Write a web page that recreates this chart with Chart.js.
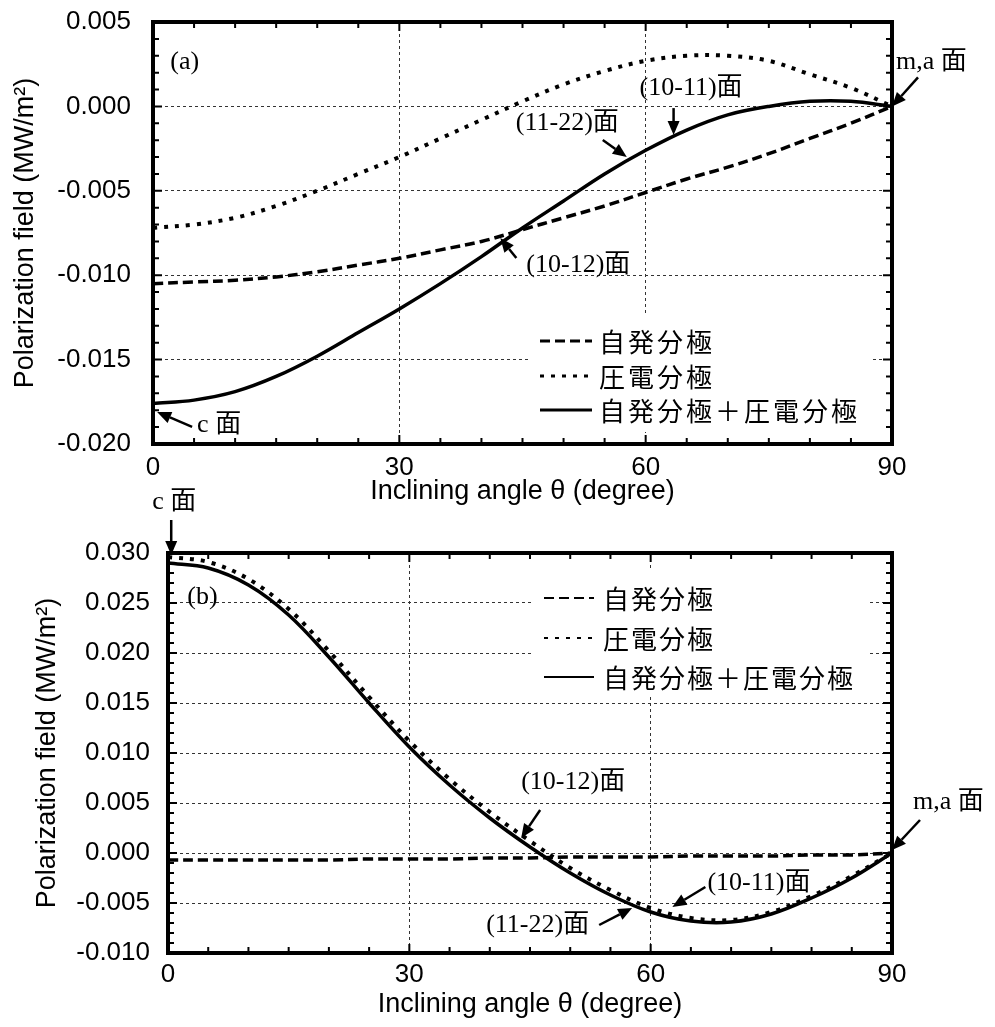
<!DOCTYPE html>
<html>
<head>
<meta charset="utf-8">
<script src="https://cdn.jsdelivr.net/npm/chart.js@4.4.1/dist/chart.umd.min.js"></script>
<style>
  body { margin: 0; background: #fff; }
  #wrap { position: relative; width: 995px; height: 1027px; }
  canvas { position: absolute; left: 0; }
  #chartA { top: 0; }
  #chartB { top: 480px; }
</style>
</head>
<body>
<div id="wrap">
  <canvas id="chartA" width="995" height="510"></canvas>
  <canvas id="chartB" width="995" height="547"></canvas>
</div>
<script>
// inclining angle (degree)
const angles = [0, 5, 10, 15, 20, 25, 30, 35, 40, 45, 50, 55, 60, 65, 70, 75, 80, 85, 90];

// (a)
const spontA = [-0.0105, -0.0104, -0.0103, -0.0101, -0.0098, -0.0094, -0.0090, -0.0085, -0.0080, -0.0073,
                -0.0066, -0.0059, -0.0051, -0.0043, -0.0036, -0.0028, -0.0019, -0.0010, 0.0000];
const piezoA = [-0.0072, -0.0070, -0.0066, -0.0059, -0.0050, -0.0040, -0.0030, -0.0019, -0.0008, 0.0003,
                0.0013, 0.0021, 0.0027, 0.0030, 0.0030, 0.0027, 0.0019, 0.0011, 0.0000];
const totalA = [-0.0176, -0.0174, -0.0169, -0.0160, -0.0148, -0.0134, -0.0120, -0.0105, -0.0089, -0.0072,
                -0.0056, -0.0040, -0.0026, -0.0014, -0.0005, 0.0000, 0.0003, 0.0003, 0.0000];

// (b)
const spontB = [-0.0007, -0.0007, -0.0007, -0.0007, -0.0007, -0.0006, -0.0006, -0.0006, -0.0005, -0.0005,
                -0.0004, -0.0004, -0.0004, -0.0003, -0.0003, -0.0003, -0.0002, -0.0002, 0.0000];
const piezoB = [0.0296, 0.0291, 0.0274, 0.0244, 0.0202, 0.0156, 0.0112, 0.0074, 0.0041, 0.0012,
                -0.0015, -0.0037, -0.0055, -0.0065, -0.0067, -0.0059, -0.0043, -0.0023, 0.0000];
const totalB = [0.0290, 0.0285, 0.0268, 0.0238, 0.0196, 0.0150, 0.0106, 0.0068, 0.0035, 0.0006,
                -0.0020, -0.0042, -0.0059, -0.0068, -0.0069, -0.0061, -0.0045, -0.0025, 0.0000];

const xTicks = [0, 30, 60, 90];
const yTicksA = [-0.020, -0.015, -0.010, -0.005, 0.000, 0.005];
const yTicksB = [-0.010, -0.005, 0.000, 0.005, 0.010, 0.015, 0.020, 0.025, 0.030];
const seriesNames = ['自発分極', '圧電分極', '自発分極＋圧電分極'];
const xTitle = 'Inclining angle θ (degree)';
const yTitle = 'Polarization field (MW/m²)';

// plane labels: tip given in data units, text / tail offsets in px
const notesA = [
  { text: 'm,a 面', x: 90, y: 0.0000, tail: [26, -29], at: [4, -44] },
  { text: '(10-11)面', x: 63.4, y: -0.0017, tail: [0, -27], at: [-34, -47] },
  { text: '(11-22)面', x: 57.7, y: -0.0030, tail: [-24, -17], at: [-111, -34] },
  { text: '(10-12)面', x: 42.3, y: -0.0078, tail: [16, 20], at: [26, 27] },
  { text: 'c 面', x: 0.5, y: -0.0181, tail: [35, 15], at: [40, 13] },
  { text: '(a)', x: 2.1, y: 0.0026 }
];
const notesB = [
  { text: 'c 面', x: 0.4, y: 0.0298, tail: [0, -35], at: [-19, -53] },
  { text: '(b)', x: 2.4, y: 0.0256 },
  { text: 'm,a 面', x: 90, y: 0.0003, tail: [28, -30], at: [21, -48] },
  { text: '(10-12)面', x: 43.9, y: 0.0015, tail: [19, -28], at: [0, -56] },
  { text: '(10-11)面', x: 62.7, y: -0.0054, tail: [33, -20], at: [35, -24] },
  { text: '(11-22)面', x: 57.7, y: -0.0055, tail: [-33, 17], at: [-146, 17] }
];

const sansFont = '"Liberation Sans", Arial, sans-serif';
const serifFont = '"Liberation Serif", "Times New Roman", "Noto Sans CJK JP", serif';
const cjkFont = '"Noto Sans CJK JP", sans-serif';

function points(vals) {
  return angles.map((a, i) => ({ x: a, y: vals[i] }));
}

function drawArrow(ctx, x1, y1, x2, y2) {
  const ang = Math.atan2(y2 - y1, x2 - x1);
  const c = Math.cos(ang), s = Math.sin(ang);
  const head = 14, half = 6;
  ctx.beginPath();
  ctx.moveTo(x1, y1);
  ctx.lineTo(x2 - head * c, y2 - head * s);
  ctx.stroke();
  ctx.beginPath();
  ctx.moveTo(x2, y2);
  ctx.lineTo(x2 - head * c + half * s, y2 - head * s - half * c);
  ctx.lineTo(x2 - head * c - half * s, y2 - head * s + half * c);
  ctx.closePath();
  ctx.fill();
}

const framePlugin = {
  id: 'frame',
  afterDatasetsDraw(chart, args, opts) {
    const { ctx, chartArea: a, scales } = chart;
    const sx = scales.x, sy = scales.y;
    ctx.save();

    // legend box
    const lg = opts.legend;
    const bx = a.left + lg.x, by = a.top + lg.y;
    ctx.fillStyle = '#fff';
    ctx.fillRect(bx, by, lg.w, lg.h);
    chart.data.datasets.forEach((ds, i) => {
      const ry = by + lg.rows[i];
      ctx.strokeStyle = '#000';
      ctx.lineWidth = lg.lineWidth;
      ctx.setLineDash(ds.borderDash || []);
      ctx.beginPath();
      ctx.moveTo(bx + lg.line0, ry);
      ctx.lineTo(bx + lg.line1, ry);
      ctx.stroke();
      ctx.setLineDash([]);
      ctx.fillStyle = '#000';
      ctx.font = '26px ' + cjkFont;
      ctx.letterSpacing = lg.spacing;
      ctx.textAlign = 'left';
      ctx.textBaseline = 'middle';
      ctx.fillText(ds.label, bx + lg.textX, ry + 1);
    });
    ctx.letterSpacing = '0px';

    // inward ticks
    ctx.strokeStyle = '#000';
    ctx.lineWidth = 2;
    const nx = Math.round((sx.max - sx.min) / opts.xMinor);
    for (let i = 0; i <= nx; i++) {
      const v = sx.min + i * opts.xMinor;
      const px = sx.getPixelForValue(v);
      const len = xTicks.includes(v) ? 9 : 6;
      ctx.beginPath();
      ctx.moveTo(px, a.bottom); ctx.lineTo(px, a.bottom - len);
      ctx.moveTo(px, a.top); ctx.lineTo(px, a.top + len);
      ctx.stroke();
    }
    const ny = Math.round((sy.max - sy.min) / opts.yMinor);
    for (let i = 0; i <= ny; i++) {
      const py = sy.getPixelForValue(sy.min + i * opts.yMinor);
      const len = i % 5 === 0 ? 9 : 6;
      ctx.beginPath();
      ctx.moveTo(a.left, py); ctx.lineTo(a.left + len, py);
      ctx.moveTo(a.right, py); ctx.lineTo(a.right - len, py);
      ctx.stroke();
    }

    // frame
    ctx.lineWidth = 4;
    ctx.strokeRect(a.left, a.top, a.right - a.left, a.bottom - a.top);

    // plane labels
    ctx.fillStyle = '#000';
    ctx.strokeStyle = '#000';
    ctx.lineWidth = 2.5;
    ctx.font = '26px ' + serifFont;
    ctx.textAlign = 'left';
    ctx.textBaseline = 'middle';
    opts.notes.forEach(n => {
      const px = sx.getPixelForValue(n.x);
      const py = sy.getPixelForValue(n.y);
      if (n.tail) {
        drawArrow(ctx, px + n.tail[0], py + n.tail[1], px, py);
        ctx.fillText(n.text, px + n.at[0], py + n.at[1]);
      } else {
        ctx.fillText(n.text, px, py);
      }
    });
    ctx.restore();
  }
};

function makeChart(id, cfg) {
  const lineStyles = [
    { borderDash: [10, 5], borderWidth: 3.5 },
    { borderDash: [4, 7], borderWidth: 4 },
    { borderDash: [], borderWidth: 3.5 }
  ];
  const datasets = cfg.series.map((vals, i) => ({
    label: seriesNames[i],
    data: points(vals),
    borderColor: '#000',
    borderWidth: lineStyles[i].borderWidth,
    borderDash: lineStyles[i].borderDash,
    borderCapStyle: 'butt',
    pointRadius: 0,
    fill: false,
    tension: 0.35
  }));

  return new Chart(document.getElementById(id), {
    type: 'line',
    data: { datasets },
    options: {
      responsive: false,
      animation: false,
      devicePixelRatio: 1,
      layout: { padding: { top: cfg.padTop, right: 103, left: 0, bottom: 0 } },
      plugins: {
        legend: { display: false },
        tooltip: { enabled: false },
        frame: { xMinor: 5, yMinor: 0.001, legend: cfg.legend, notes: cfg.notes }
      },
      scales: {
        x: {
          type: 'linear', min: 0, max: 90,
          afterBuildTicks: s => { s.ticks = xTicks.map(v => ({ value: v })); },
          afterFit: s => { s.height = cfg.xAxisH; s.paddingLeft = 0; s.paddingRight = 0; },
          grid: { color: '#333', lineWidth: 1, drawTicks: false },
          border: { display: false, dash: [3, 3] },
          ticks: { color: '#000', font: { family: sansFont, size: 26 }, padding: cfg.xTickPad, maxRotation: 0 },
          title: { display: true, text: xTitle, color: '#000', font: { family: sansFont, size: 27 },
                   padding: { top: 0, bottom: cfg.xTitlePad } }
        },
        y: {
          type: 'linear', min: cfg.yTicks[0], max: cfg.yTicks[cfg.yTicks.length - 1],
          afterBuildTicks: s => { s.ticks = cfg.yTicks.map(v => ({ value: v })); },
          afterFit: s => { s.width = cfg.yAxisW; s.paddingTop = 0; s.paddingBottom = 0; },
          grid: { color: '#333', lineWidth: 1, drawTicks: false },
          border: { display: false, dash: [3, 3] },
          ticks: {
            color: '#000', font: { family: sansFont, size: 26 }, padding: cfg.yTickPad,
            callback: v => (Math.abs(v) < 1e-9 ? 0 : v).toFixed(3)
          },
          title: { display: true, text: yTitle, color: '#000', font: { family: sansFont, size: 27 },
                   padding: { top: cfg.yTitlePad, bottom: 0 } }
        }
      }
    },
    plugins: [framePlugin]
  });
}

makeChart('chartA', {
  series: [spontA, piezoA, totalA],
  yTicks: yTicksA,
  padTop: 22, xAxisH: 66, yAxisW: 153,
  xTickPad: 8, yTickPad: 22, xTitlePad: 2, yTitlePad: 9,
  legend: { x: 377, y: 293, w: 342, h: 117, line0: 10, line1: 62, textX: 69,
            rows: [26, 61, 95], lineWidth: 3, spacing: '3px' },
  notes: notesA
});

makeChart('chartB', {
  series: [spontB, piezoB, totalB],
  yTicks: yTicksB,
  padTop: 73, xAxisH: 74, yAxisW: 168,
  xTickPad: 6, yTickPad: 18, xTitlePad: 6, yTitlePad: 31,
  legend: { x: 365, y: 17, w: 334, h: 127, line0: 11, line1: 61, textX: 70,
            rows: [28, 68, 107], lineWidth: 2, spacing: '2px' },
  notes: notesB
});
</script>
</body>
</html>
